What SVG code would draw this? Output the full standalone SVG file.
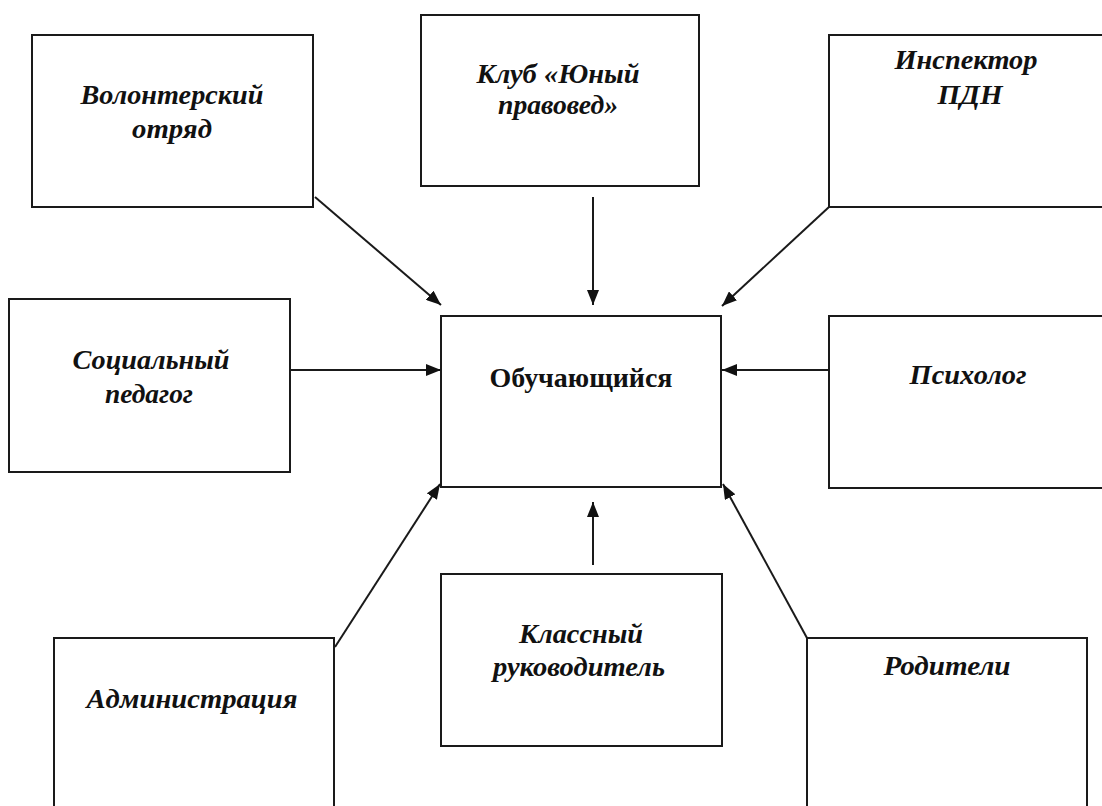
<svg xmlns="http://www.w3.org/2000/svg" width="1102" height="806" viewBox="0 0 1102 806">
  <style>
    .box { fill: #ffffff; stroke: #1a1a1a; stroke-width: 2; }
    .lbl { font-family: "Liberation Serif", "Times New Roman", serif; font-size: 28px; font-weight: bold; font-style: italic; fill: #111111; text-anchor: middle; }
    .main { font-family: "Liberation Serif", "Times New Roman", serif; font-size: 27px; font-weight: bold; fill: #111111; text-anchor: middle; }
    .conn { stroke: #1a1a1a; stroke-width: 2; fill: none; marker-end: url(#arr); }
  </style>
  <defs>
    <marker id="arr" markerUnits="userSpaceOnUse" markerWidth="16" markerHeight="12" refX="15" refY="6" orient="auto">
      <path d="M0,0 L15,6 L0,12 Z" fill="#111111"/>
    </marker>
  </defs>
  <rect width="1102" height="806" fill="#ffffff"/>

  <g id="node-volunteer">
    <rect class="box" x="32" y="35" width="281" height="172"/>
    <text class="lbl" x="172" y="104" textLength="183" lengthAdjust="spacingAndGlyphs">Волонтерский</text>
    <text class="lbl" x="172" y="138" textLength="80" lengthAdjust="spacingAndGlyphs">отряд</text>
  </g>
  <g id="node-club">
    <rect class="box" x="421" y="15" width="278" height="171"/>
    <text class="lbl" x="558" y="83" textLength="163" lengthAdjust="spacingAndGlyphs">Клуб «Юный</text>
    <text class="lbl" x="558" y="114" textLength="120" lengthAdjust="spacingAndGlyphs">правовед»</text>
  </g>
  <g id="node-inspector">
    <rect class="box" x="829" y="35" width="290" height="172"/>
    <text class="lbl" x="966" y="69" textLength="143" lengthAdjust="spacingAndGlyphs">Инспектор</text>
    <text class="lbl" x="970" y="104" textLength="65" lengthAdjust="spacingAndGlyphs">ПДН</text>
  </g>
  <g id="node-social">
    <rect class="box" x="9" y="299" width="281" height="173"/>
    <text class="lbl" x="151" y="369" textLength="157" lengthAdjust="spacingAndGlyphs">Социальный</text>
    <text class="lbl" x="149" y="403" textLength="88" lengthAdjust="spacingAndGlyphs">педагог</text>
  </g>
  <g id="node-student">
    <rect class="box" x="441" y="316" width="280" height="171"/>
    <text class="main" x="581" y="387" textLength="183" lengthAdjust="spacingAndGlyphs">Обучающийся</text>
  </g>
  <g id="node-psychologist">
    <rect class="box" x="829" y="316" width="290" height="172"/>
    <text class="lbl" x="968" y="384" textLength="117" lengthAdjust="spacingAndGlyphs">Психолог</text>
  </g>
  <g id="node-admin">
    <rect class="box" x="54" y="638" width="280" height="190"/>
    <text class="lbl" x="192" y="708" textLength="211" lengthAdjust="spacingAndGlyphs">Администрация</text>
  </g>
  <g id="node-classteacher">
    <rect class="box" x="441" y="574" width="281" height="172"/>
    <text class="lbl" x="581" y="643" textLength="124" lengthAdjust="spacingAndGlyphs">Классный</text>
    <text class="lbl" x="579" y="676" textLength="172" lengthAdjust="spacingAndGlyphs">руководитель</text>
  </g>
  <g id="node-parents">
    <rect class="box" x="807" y="638" width="280" height="190"/>
    <text class="lbl" x="947" y="675" textLength="127" lengthAdjust="spacingAndGlyphs">Родители</text>
  </g>

  <g id="connectors">
    <line class="conn" x1="315" y1="197" x2="441" y2="305"/>
    <line class="conn" x1="593" y1="197" x2="593" y2="305"/>
    <line class="conn" x1="829" y1="207" x2="722" y2="306"/>
    <line class="conn" x1="290" y1="370" x2="441" y2="370"/>
    <line class="conn" x1="829" y1="370" x2="722" y2="370"/>
    <line class="conn" x1="335" y1="647" x2="440" y2="484"/>
    <line class="conn" x1="593" y1="565" x2="593" y2="502"/>
    <line class="conn" x1="807" y1="638" x2="723" y2="484"/>
  </g>
</svg>
